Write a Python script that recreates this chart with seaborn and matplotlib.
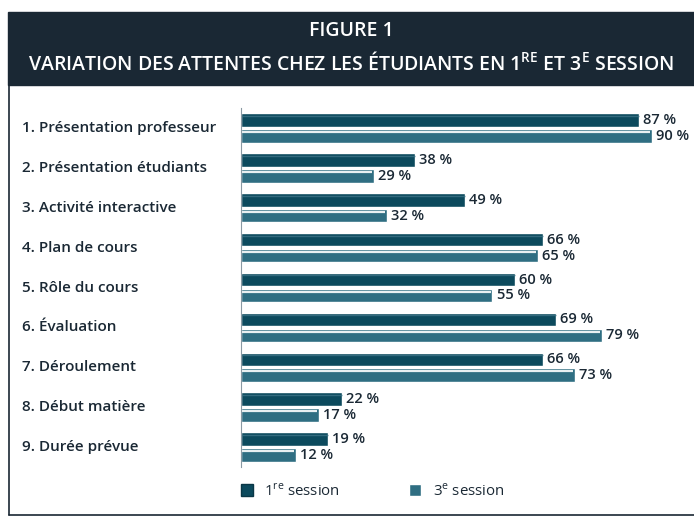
import pandas as pd
import matplotlib
matplotlib.use("Agg")
import matplotlib.pyplot as plt
import matplotlib.transforms as mtransforms
import seaborn as sns
from matplotlib.patches import Rectangle
from matplotlib.lines import Line2D

# Data
categories = [
    "1. Présentation professeur",
    "2. Présentation étudiants",
    "3. Activité interactive",
    "4. Plan de cours",
    "5. Rôle du cours",
    "6. Évaluation",
    "7. Déroulement",
    "8. Début matière",
    "9. Durée prévue",
]
session_1 = [87, 38, 49, 66, 60, 69, 66, 22, 19]
session_3 = [90, 29, 32, 65, 55, 79, 73, 17, 12]
session_names = ["1re session", "3e session"]

df = pd.DataFrame({
    "categorie": categories * 2,
    "valeur": session_1 + session_3,
    "session": [session_names[0]] * len(categories) + [session_names[1]] * len(categories),
})

sns.set_style("white")
plt.rcParams["font.family"] = ["Open Sans", "DejaVu Sans"]

dark = "#1a2834"
c1 = "#0c4a5d"
c3 = "#2f6e82"
W, H = 694, 521

fig = plt.figure(figsize=(W / 100, H / 100), dpi=100)

# title banner
fig.patches.append(Rectangle((8 / W, 1 - 85 / H), 1, 73 / H, transform=fig.transFigure,
                             color=dark, zorder=0))
fig.text(0.5 + 4 / W, 1 - 31 / H, "FIGURE 1", color="white", fontsize=14,
         fontweight="semibold", ha="center", va="center")
fig.text(0.5 + 4 / W, 1 - 63 / H,
         r"VARIATION DES ATTENTES CHEZ LES ÉTUDIANTS EN 1$^{\mathregular{RE}}$ ET 3$^{\mathregular{E}}$ SESSION",
         color="white", fontsize=14, fontweight="semibold", ha="center", va="center")

# frame lines (left and bottom)
fig.add_artist(Line2D([9 / W, 9 / W], [1 - 85 / H, 1 - 515 / H], transform=fig.transFigure,
                      color=dark, lw=1.2))
fig.add_artist(Line2D([9 / W, 1], [1 - 515 / H, 1 - 515 / H], transform=fig.transFigure,
                      color=dark, lw=1.2))

# axes: x=0 at 241 px, 4.57 px per %, rows from 108 to 467 px
px_per = 4.57
xmax = 95
ax = fig.add_axes([241 / W, 1 - 467 / H, xmax * px_per / W, 359 / H])

sns.barplot(data=df, y="categorie", x="valeur", hue="session", orient="h",
            palette=[c1, c3], width=0.8, gap=0.15, ax=ax, legend=False,
            saturation=1)

ax.set_xlim(0, xmax)
ax.set_ylim(8.5, -0.5)
ax.set_xlabel("")
ax.set_ylabel("")
ax.set_xticks([])
for s in ["top", "right", "bottom"]:
    ax.spines[s].set_visible(False)
ax.spines["left"].set_color("#8a99a3")
ax.spines["left"].set_linewidth(0.8)
ax.tick_params(axis="y", length=0, labelleft=False)

# category labels, left aligned
trans = mtransforms.blended_transform_factory(fig.transFigure, ax.transData)
for i, cat in enumerate(categories):
    fig.text(22 / W, i, cat, transform=trans, ha="left", va="center",
             color=dark, fontsize=11, fontweight="semibold")

# highlight on the bars, value labels
for i, cont in enumerate(ax.containers):
    for bar in cont:
        x0 = bar.get_x()
        w = bar.get_width()
        y0 = bar.get_y()
        h = bar.get_height()
        if i == 1:
            ax.plot([x0, x0 + w - 0.4], [y0 + h * 0.22, y0 + h * 0.22], color="white",
                    lw=1.6, alpha=0.9, solid_capstyle="butt")
        else:
            ax.plot([x0, x0 + w], [y0 + h * 0.2, y0 + h * 0.2], color="#3d7487",
                    lw=1.0, alpha=0.8, solid_capstyle="butt")
    ax.bar_label(cont, labels=[f"{int(v)} %" for v in cont.datavalues], padding=3,
                 color=dark, fontsize=10.5, fontweight="semibold")

# legend
handles = [Rectangle((0, 0), 1, 1, facecolor=c1, edgecolor="#0a3746"),
           Rectangle((0, 0), 1, 1, facecolor=c3, edgecolor="white")]
fig.legend(handles, [r"1$^{\mathregular{re}}$ session", r"3$^{\mathregular{e}}$ session"],
           loc="center left", bbox_to_anchor=(227 / W, 1 - 491 / H), ncol=2,
           frameon=False, fontsize=10.8, handlelength=0.8, handleheight=0.8,
           columnspacing=4.6, handletextpad=0.8, labelcolor=dark)

fig.savefig("out.png", dpi=100)
